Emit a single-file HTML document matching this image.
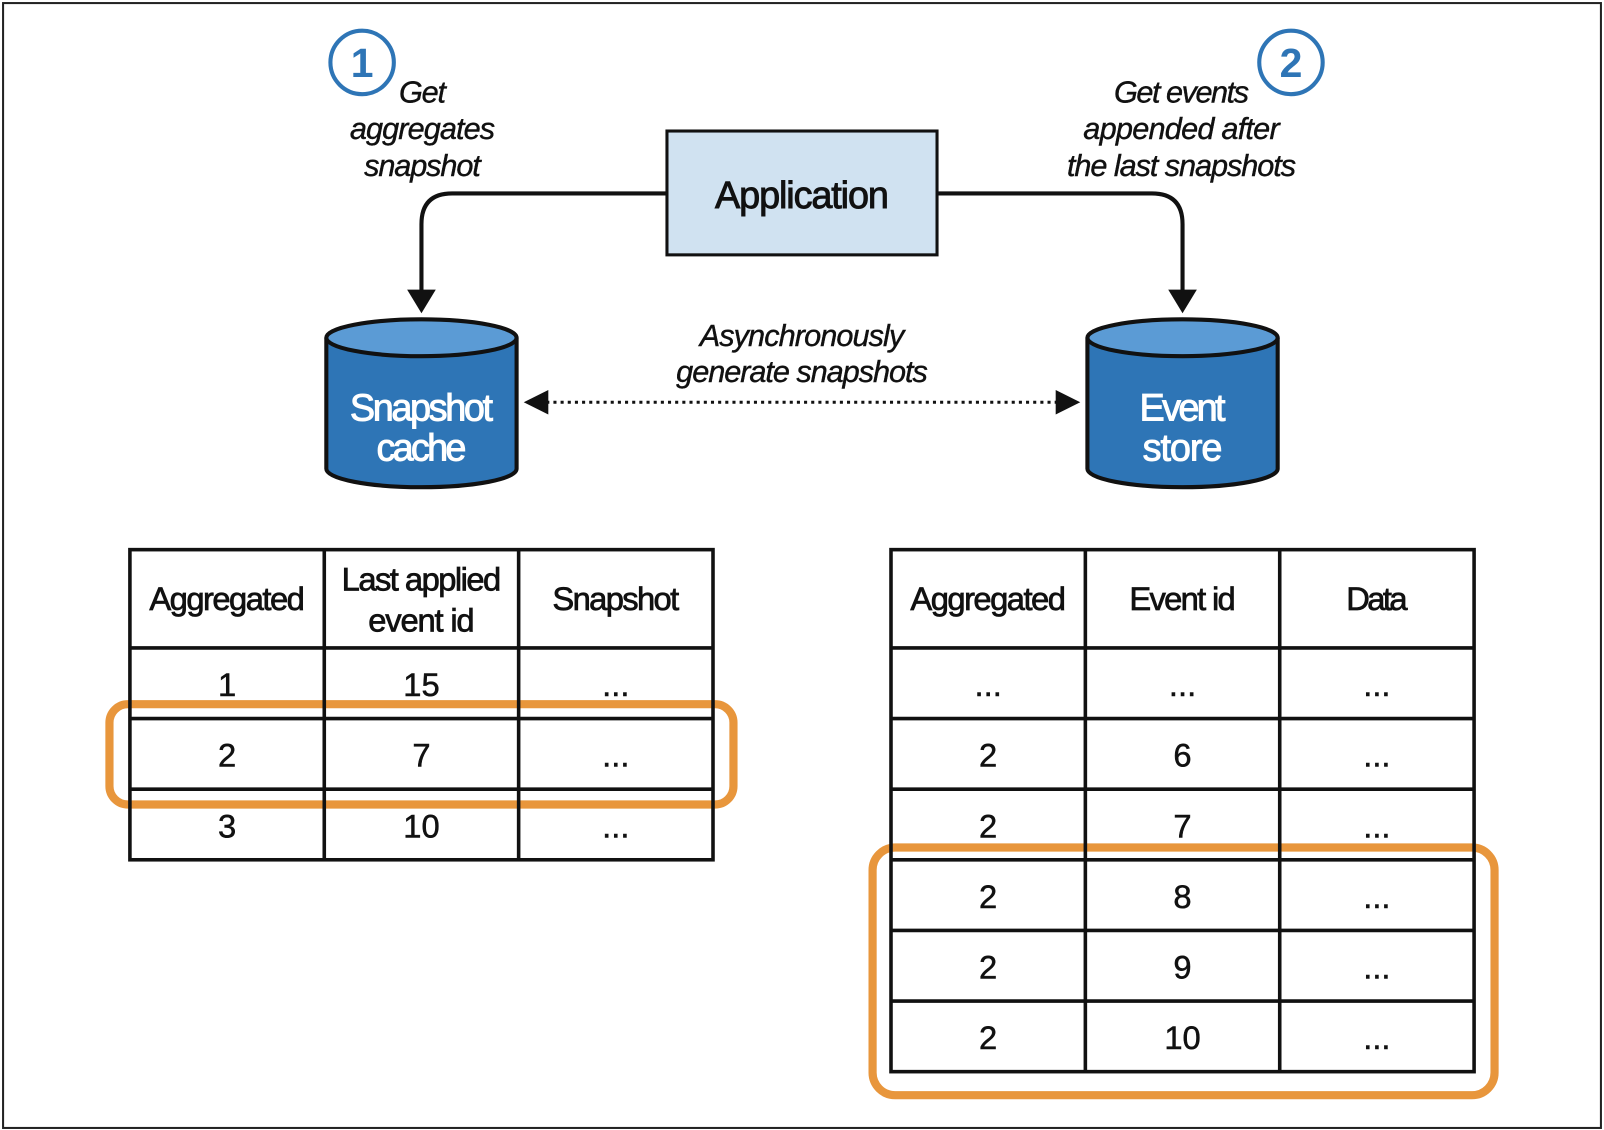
<!DOCTYPE html>
<html><head><meta charset="utf-8"><style>
html,body{margin:0;padding:0;background:#fff;}
svg{display:block;}
text{font-family:"Liberation Sans Narrow","Liberation Sans",sans-serif;}
.h{font-size:32px;text-anchor:middle;fill:#111;stroke:#111;stroke-width:0.7;}
.c{font-size:32px;text-anchor:middle;fill:#111;stroke:#111;stroke-width:0.5;}
.i{font-style:italic;font-size:30px;text-anchor:middle;fill:#111;stroke:#111;stroke-width:0.4;}
</style></head><body>
<svg width="1604" height="1130" viewBox="0 0 1568 1104" preserveAspectRatio="none">
<rect x="3" y="3" width="1562" height="1099" fill="#fff" stroke="#222" stroke-width="2"/>
<circle cx="354" cy="61" r="31" fill="#fff" stroke="#2e75b6" stroke-width="4"/>
<text x="354" y="75" font-size="40" font-weight="bold" text-anchor="middle" fill="#2e75b6">1</text>
<circle cx="1262" cy="61" r="31" fill="#fff" stroke="#2e75b6" stroke-width="4"/>
<text x="1262" y="75" font-size="40" font-weight="bold" text-anchor="middle" fill="#2e75b6">2</text>
<text class="i" x="413" y="100" textLength="46">Get</text>
<text class="i" x="413" y="136" textLength="142">aggregates</text>
<text class="i" x="413" y="172" textLength="114">snapshot</text>
<text class="i" x="1155" y="100" textLength="132">Get events</text>
<text class="i" x="1155" y="136" textLength="192">appended after</text>
<text class="i" x="1155" y="172" textLength="224">the last snapshots</text>
<rect x="652" y="128" width="264" height="121" fill="#d0e2f1" stroke="#111" stroke-width="3"/>
<text x="784" y="203" font-size="37" text-anchor="middle" fill="#111" stroke="#111" stroke-width="0.9" textLength="170">Application</text>
<path d="M652 189 H442 Q412 189 412 219 V285" fill="none" stroke="#111" stroke-width="4"/>
<polygon points="398,283 426,283 412,306" fill="#111"/>
<path d="M916 189 H1126 Q1156 189 1156 219 V285" fill="none" stroke="#111" stroke-width="4"/>
<polygon points="1142,283 1170,283 1156,306" fill="#111"/>
<g stroke="#111" stroke-width="4">
<path d="M319 330 V458 A93 18 0 0 0 505 458 V330" fill="#2e75b6"/>
<ellipse cx="412" cy="330" rx="93" ry="18" fill="#5b9bd5"/>
<path d="M1063 330 V458 A93 18 0 0 0 1249 458 V330" fill="#2e75b6"/>
<ellipse cx="1156" cy="330" rx="93" ry="18" fill="#5b9bd5"/>
</g>
<g fill="#fff" stroke="#fff" stroke-width="0.9" font-size="37" text-anchor="middle">
<text x="412" y="411" textLength="140">Snapshot</text>
<text x="412" y="450" textLength="88">cache</text>
<text x="1156" y="411" textLength="84">Event</text>
<text x="1156" y="450" textLength="78">store</text>
</g>
<line x1="534" y1="393" x2="1036" y2="393" stroke="#111" stroke-width="3" stroke-dasharray="3,4"/>
<polygon points="512,393 536,381 536,405" fill="#111"/>
<polygon points="1056,393 1032,381 1032,405" fill="#111"/>
<text class="i" x="784" y="338" textLength="200">Asynchronously</text>
<text class="i" x="784" y="373" textLength="246">generate snapshots</text>
<rect x="107" y="688" width="610" height="98" rx="18" fill="none" stroke="#e8963c" stroke-width="8"/>
<rect x="853" y="828" width="608" height="242" rx="22" fill="none" stroke="#e8963c" stroke-width="8"/>
<g stroke="#111" stroke-width="3.5" fill="none">
<rect x="127" y="537" width="570" height="303"/>
<line x1="317" y1="537" x2="317" y2="840"/><line x1="507" y1="537" x2="507" y2="840"/>
<line x1="127" y1="633" x2="697" y2="633"/><line x1="127" y1="702" x2="697" y2="702"/><line x1="127" y1="771" x2="697" y2="771"/>
<rect x="871" y="537" width="570" height="510"/>
<line x1="1061" y1="537" x2="1061" y2="1047"/><line x1="1251" y1="537" x2="1251" y2="1047"/>
<line x1="871" y1="633" x2="1441" y2="633"/><line x1="871" y1="702" x2="1441" y2="702"/><line x1="871" y1="771" x2="1441" y2="771"/>
<line x1="871" y1="840" x2="1441" y2="840"/><line x1="871" y1="909" x2="1441" y2="909"/><line x1="871" y1="978" x2="1441" y2="978"/>
</g>
<text class="h" x="222" y="596" textLength="152">Aggregated</text>
<text class="h" x="412" y="577" textLength="156">Last applied</text>
<text class="h" x="412" y="617" textLength="104">event id</text>
<text class="h" x="602" y="596" textLength="124">Snapshot</text>
<text class="c" x="222" y="680">1</text><text class="c" x="412" y="680">15</text><text class="c" x="602" y="680">...</text>
<text class="c" x="222" y="749">2</text><text class="c" x="412" y="749">7</text><text class="c" x="602" y="749">...</text>
<text class="c" x="222" y="818">3</text><text class="c" x="412" y="818">10</text><text class="c" x="602" y="818">...</text>
<text class="h" x="966" y="596" textLength="152">Aggregated</text>
<text class="h" x="1156" y="596" textLength="104">Event id</text>
<text class="h" x="1346" y="596" textLength="60">Data</text>
<text class="c" x="966" y="680">...</text><text class="c" x="1156" y="680">...</text><text class="c" x="1346" y="680">...</text>
<text class="c" x="966" y="749">2</text><text class="c" x="1156" y="749">6</text><text class="c" x="1346" y="749">...</text>
<text class="c" x="966" y="818">2</text><text class="c" x="1156" y="818">7</text><text class="c" x="1346" y="818">...</text>
<text class="c" x="966" y="887">2</text><text class="c" x="1156" y="887">8</text><text class="c" x="1346" y="887">...</text>
<text class="c" x="966" y="956">2</text><text class="c" x="1156" y="956">9</text><text class="c" x="1346" y="956">...</text>
<text class="c" x="966" y="1025">2</text><text class="c" x="1156" y="1025">10</text><text class="c" x="1346" y="1025">...</text>
</svg>
</body></html>
